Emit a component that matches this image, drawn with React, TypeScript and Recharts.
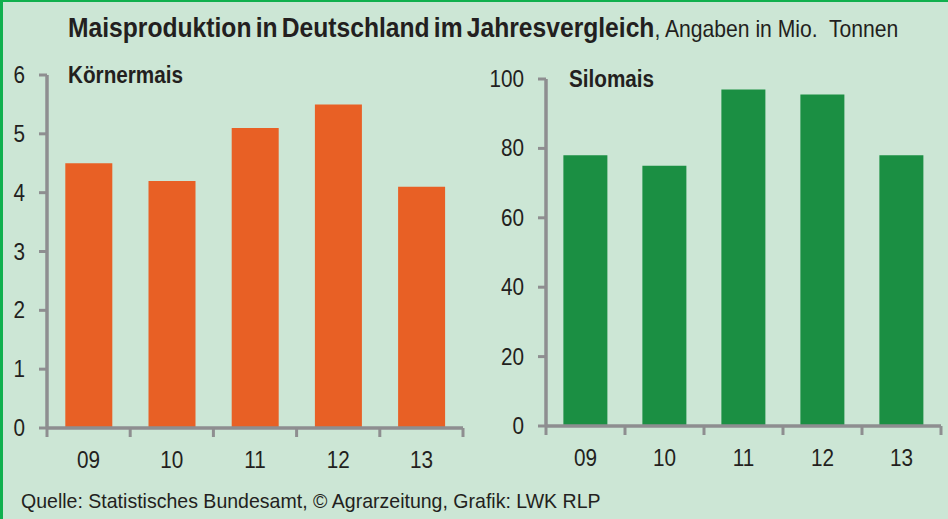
import React from "react";
import { BarChart, Bar, XAxis, YAxis } from "recharts";

const years = ["09", "10", "11", "12", "13"];
const koernermais = [4.5, 4.2, 5.1, 5.5, 4.1];
const silomais = [78, 75, 97, 95.5, 78];
const leftTicks = [0, 1, 2, 3, 4, 5, 6];
const rightTicks = [0, 20, 40, 60, 80, 100];

const FONT = "'Liberation Sans', Arial, sans-serif";
const NARROW = 0.9; // condensed look: squeeze Liberation Sans horizontally
const AXIS = "#8e8e90";
const TEXT = "#231f20";
const BG = "#cce6d5";

const leftData = years.map((y, i) => ({ year: y, value: koernermais[i] }));
const rightData = years.map((y, i) => ({ year: y, value: silomais[i] }));

function XTick(props: any) {
  const { x, y, payload, index, visibleTicksCount } = props;
  const half = payload.offset ?? 40;
  return (
    <g>
      <line x1={x - half} x2={x - half} y1={y} y2={y + 9} stroke={AXIS} strokeWidth={3} />
      {index === visibleTicksCount - 1 && (
        <line x1={x + half} x2={x + half} y1={y} y2={y + 9} stroke={AXIS} strokeWidth={3} />
      )}
      <text
        transform={`translate(${x},${y + 40}) scale(${NARROW},1)`}
        textAnchor="middle"
        fill={TEXT}
        fontSize={23}
        fontFamily={FONT}
      >
        {payload.value}
      </text>
    </g>
  );
}

function YTick(props: any) {
  const { x, y, payload } = props;
  return (
    <text
      transform={`translate(${x},${y + 8}) scale(${NARROW},1)`}
      textAnchor="end"
      fill={TEXT}
      fontSize={23}
      fontFamily={FONT}
    >
      {payload.value}
    </text>
  );
}

function Panel(props: {
  data: { year: string; value: number }[];
  ticks: number[];
  color: string;
  yWidth: number;
  margin: { top: number; right: number; bottom: number; left: number };
}) {
  const { data, ticks, color, yWidth, margin } = props;
  return (
    <BarChart width={474} height={519} data={data} margin={margin} barCategoryGap="22%">
      <XAxis
        dataKey="year"
        height={60}
        tickSize={0}
        tickMargin={0}
        tickLine={false}
        axisLine={{ stroke: AXIS, strokeWidth: 3.5 }}
        tick={<XTick />}
        interval={0}
      />
      <YAxis
        width={yWidth}
        domain={[0, ticks[ticks.length - 1]]}
        ticks={ticks}
        interval={0}
        tickSize={8}
        tickMargin={14}
        axisLine={{ stroke: AXIS, strokeWidth: 3.5 }}
        tickLine={{ stroke: AXIS, strokeWidth: 3 }}
        tick={<YTick />}
      />
      <Bar dataKey="value" fill={color} isAnimationActive={false} />
    </BarChart>
  );
}

const narrowText: React.CSSProperties = {
  position: "absolute",
  whiteSpace: "nowrap",
  transform: `scaleX(${NARROW})`,
  transformOrigin: "left top",
};

export default function App() {
  return (
    <div
      style={{
        position: "absolute",
        left: 0,
        top: 0,
        width: 948,
        height: 519,
        boxSizing: "border-box",
        background: BG,
        borderLeft: "3px solid #10b04e",
        borderTop: "2px solid #10b04e",
        overflow: "hidden",
        fontFamily: FONT,
        color: TEXT,
      }}
    >
      <div style={{ position: "absolute", left: -3, top: -2 }}>
        <Panel
          data={leftData}
          ticks={leftTicks}
          color="#e86025"
          yWidth={47}
          margin={{ top: 75, right: 11, bottom: 31, left: 0 }}
        />
      </div>
      <div style={{ position: "absolute", left: 471, top: -2 }}>
        <Panel
          data={rightData}
          ticks={rightTicks}
          color="#1b8f43"
          yWidth={72}
          margin={{ top: 79, right: 7, bottom: 33, left: 0 }}
        />
      </div>
      <div style={{ ...narrowText, transform: "scaleX(0.88)", left: 65, top: 10 }}>
        <span style={{ fontSize: 28, fontWeight: "bold", wordSpacing: -3 }}>
          Maisproduktion in Deutschland im Jahresvergleich
        </span>
        <span style={{ fontSize: 24 }}>, Angaben in Mio.&nbsp; Tonnen</span>
      </div>
      <div style={{ ...narrowText, left: 65, top: 60, fontSize: 23, fontWeight: "bold" }}>Körnermais</div>
      <div style={{ ...narrowText, left: 566, top: 64, fontSize: 23, fontWeight: "bold" }}>Silomais</div>
      <div style={{ ...narrowText, transform: "scaleX(0.93)", left: 18, top: 487, fontSize: 21 }}>
        Quelle: Statistisches Bundesamt, © Agrarzeitung, Grafik: LWK RLP
      </div>
    </div>
  );
}
